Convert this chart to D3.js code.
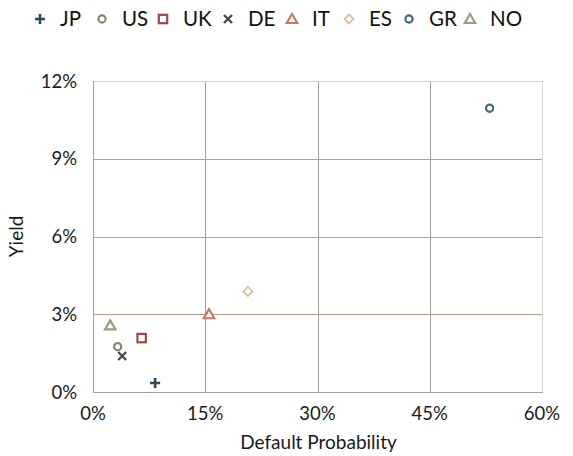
<!DOCTYPE html>
<html>
<head>
<meta charset="utf-8">
<script src="https://cdn.jsdelivr.net/npm/d3@7/dist/d3.min.js"></script>
<style>
  html, body { margin: 0; padding: 0; background: #fff; }
  svg { display: block; font-family: Lato, "Open Sans", sans-serif; }
</style>
</head>
<body>
<svg id="chart" width="573" height="456"></svg>
<script>
// Sovereign default probability vs. bond yield
const countries = ["JP", "US", "UK", "DE", "IT", "ES", "GR", "NO"];
const defaultProb = [0.083, 0.033, 0.065, 0.039, 0.155, 0.207, 0.530, 0.023];
const yields =      [0.0035, 0.0175, 0.0208, 0.0139, 0.0300, 0.0388, 0.1095, 0.0257];
const symbols = ["plus", "circle", "square", "cross", "triangle", "diamond", "circle", "triangle"];
const colors = ["#2c4a55", "#8a8470", "#9a4a42", "#4a4a4a", "#c87860", "#d8c0a2", "#3e6a78", "#9e9a86"];
const xTicks = [0, 0.15, 0.30, 0.45, 0.60];
const yTicks = [0, 0.03, 0.06, 0.09, 0.12];

const svg = d3.select("#chart");
const m = { left: 93, right: 542, top: 81, bottom: 392 };

const x = d3.scaleLinear().domain([0, 0.60]).range([m.left, m.right]);
const y = d3.scaleLinear().domain([0, 0.12]).range([m.bottom, m.top]);

// vertical gridlines
svg.append("g").selectAll("line").data(xTicks.slice(1)).join("line")
  .attr("x1", d => Math.round(x(d)) + 0.5).attr("x2", d => Math.round(x(d)) + 0.5)
  .attr("y1", m.top).attr("y2", m.bottom)
  .attr("stroke", (d, i) => i === xTicks.length - 2 ? "#d4d4d4" : "#a0a0a0").attr("stroke-width", 1);

// horizontal gridlines
svg.append("g").selectAll("line").data(yTicks.slice(1)).join("line")
  .attr("x1", m.left).attr("x2", m.right)
  .attr("y1", d => Math.round(y(d)) + 0.5).attr("y2", d => Math.round(y(d)) + 0.5)
  .attr("stroke", (d, i) => i === yTicks.length - 2 ? "#e2cfc4" : "#bf9c8a").attr("stroke-width", 1);

// axis lines
svg.append("line").attr("x1", m.left + 0.5).attr("x2", m.left + 0.5)
  .attr("y1", m.top).attr("y2", m.bottom + 0.5).attr("stroke", "#a0a0a0");
svg.append("line").attr("x1", m.left).attr("x2", m.right + 1)
  .attr("y1", m.bottom + 0.5).attr("y2", m.bottom + 0.5).attr("stroke", "#a0a0a0");

const fmt = d3.format(".0%");

// tick labels
svg.append("g").selectAll("text").data(xTicks).join("text")
  .attr("x", d => x(d)).attr("y", m.bottom + 28)
  .attr("text-anchor", "middle").attr("font-size", 18.5).attr("fill", "#1a1a1a")
  .text(fmt);
svg.append("g").selectAll("text").data(yTicks).join("text")
  .attr("x", m.left - 16).attr("y", d => y(d) + 6.5)
  .attr("text-anchor", "end").attr("font-size", 18.5).attr("fill", "#1a1a1a")
  .text(fmt);

// axis titles
svg.append("text").attr("x", (m.left + m.right) / 2 + 1).attr("y", 449)
  .attr("text-anchor", "middle").attr("font-size", 19).attr("fill", "#1a1a1a")
  .text("Default Probability");
svg.append("text").attr("transform", `translate(23,${(m.top + m.bottom) / 2}) rotate(-90)`)
  .attr("text-anchor", "middle").attr("font-size", 19).attr("fill", "#1a1a1a")
  .text("Yield");

// marker shapes
function marker(g, type, color) {
  const sw = 2.2;
  if (type === "plus") {
    g.append("path").attr("d", "M-5,0H5M0,-5V5").attr("stroke", color).attr("stroke-width", 2.6).attr("fill", "none");
  } else if (type === "cross") {
    g.append("path").attr("d", "M-4,-4L4,4M-4,4L4,-4").attr("stroke", color).attr("stroke-width", 2.4).attr("fill", "none");
  } else if (type === "circle") {
    g.append("circle").attr("r", 3.6).attr("stroke", color).attr("stroke-width", sw).attr("fill", "#fff");
  } else if (type === "square") {
    g.append("rect").attr("x", -4.2).attr("y", -4.2).attr("width", 8.4).attr("height", 8.4)
      .attr("stroke", color).attr("stroke-width", 2.2).attr("fill", "#fff");
  } else if (type === "triangle") {
    g.append("path").attr("d", "M0,-5L5.2,4L-5.2,4Z").attr("stroke", color).attr("stroke-width", sw)
      .attr("stroke-linejoin", "miter").attr("fill", "#fff");
  } else if (type === "diamond") {
    g.append("path").attr("d", "M0,-4.5L4.5,0L0,4.5L-4.5,0Z").attr("stroke", color).attr("stroke-width", 1.8).attr("fill", "#fff");
  }
}

// points
countries.forEach((c, i) => {
  const g = svg.append("g").attr("transform", `translate(${x(defaultProb[i])},${y(yields[i])})`);
  marker(g, symbols[i], colors[i]);
});

// legend
const legendX = [40, 102, 163, 228, 292, 349, 409, 470];
countries.forEach((c, i) => {
  const g = svg.append("g").attr("transform", `translate(${legendX[i]},19)`);
  marker(g, symbols[i], colors[i]);
  svg.append("text").attr("x", legendX[i] + 20).attr("y", 26)
    .attr("font-size", 20.5).attr("fill", "#111").text(c);
});
</script>
</body>
</html>
